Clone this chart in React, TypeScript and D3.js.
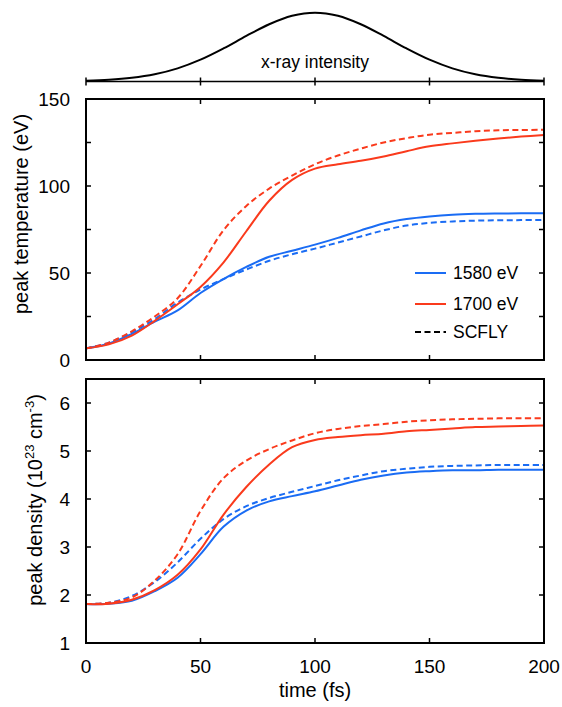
import { useRef, useEffect } from "react";
import * as d3 from "d3";

// time grid (fs)
const times = [0, 10, 20, 30, 40, 50, 60, 70, 80, 90, 100, 110, 120, 130, 140, 150, 160, 170, 180, 190, 200];

// x-ray pulse intensity (normalised)
const pulse = [0.01, 0.024, 0.053, 0.105, 0.191, 0.317, 0.48, 0.662, 0.832, 0.955, 1, 0.955, 0.832, 0.662, 0.48, 0.317, 0.191, 0.105, 0.053, 0.024, 0.01];

// peak temperature (eV)
const temp1580 = [6.7, 9.5, 15, 22, 28.5, 38.5, 46.5, 53.5, 59.3, 62.8, 66.3, 70.2, 74.5, 78.5, 81, 82.5, 83.5, 84, 84.2, 84.3, 84.4];
const temp1580scfly = [6.7, 10, 16, 23.5, 33, 40.5, 46.5, 52, 57, 60.8, 64, 67.5, 71, 74.5, 77.3, 78.8, 79.6, 80.1, 80.3, 80.4, 80.5];
const temp1700 = [6.7, 9, 14, 22.5, 32, 42, 56, 74, 91.5, 103.5, 110, 112.5, 114.5, 117, 120, 122.8, 124.5, 126, 127.3, 128.4, 129.3];
const temp1700scfly = [6.7, 10, 16.5, 25, 35.5, 54, 74.5, 88.5, 98.5, 106, 112.5, 117.5, 121.5, 125, 127.5, 129.5, 130.5, 131.5, 132, 132.2, 132.3];

// peak density (10^23 cm^-3)
const dens1580 = [1.81, 1.82, 1.88, 2.08, 2.36, 2.85, 3.42, 3.76, 3.95, 4.06, 4.16, 4.28, 4.4, 4.49, 4.55, 4.58, 4.6, 4.6, 4.61, 4.61, 4.61];
const dens1580scfly = [1.81, 1.84, 1.98, 2.27, 2.68, 3.17, 3.58, 3.85, 4.02, 4.15, 4.27, 4.39, 4.49, 4.58, 4.63, 4.67, 4.69, 4.7, 4.71, 4.71, 4.71];
const dens1700 = [1.81, 1.82, 1.9, 2.1, 2.42, 2.95, 3.67, 4.25, 4.72, 5.08, 5.23, 5.29, 5.33, 5.36, 5.41, 5.44, 5.47, 5.5, 5.51, 5.52, 5.53];
const dens1700scfly = [1.81, 1.84, 1.95, 2.3, 2.85, 3.75, 4.43, 4.8, 5.04, 5.22, 5.37, 5.46, 5.52, 5.56, 5.61, 5.64, 5.66, 5.67, 5.68, 5.68, 5.68];

const xTicks = [0, 50, 100, 150, 200];
const tempTicks = [0, 50, 100, 150];
const tempMinor = [0, 25, 50, 75, 100, 125, 150];
const densTicks = [1, 2, 3, 4, 5, 6];

const BLUE = "#1a6cf4";
const RED = "#fa3a1c";
const FONT = "'Liberation Sans', Arial, sans-serif";

function App() {
  const svgRef = useRef(null);

  useEffect(() => {
    const svg = d3.select(svgRef.current);
    svg.selectAll("*").remove();

    const x = d3.scaleLinear().domain([0, 200]).range([86, 544]);
    const yPulse = d3.scaleLinear().domain([0, 1]).range([81.5, 12.7]);
    const yT = d3.scaleLinear().domain([0, 150]).range([360, 99]);
    const yD = d3.scaleLinear().domain([1, 6.5]).range([643, 379]);

    // ---- pulse strip
    const pulseLine = d3
      .line()
      .x((_, i) => x(times[i]))
      .y((d) => yPulse(d))
      .curve(d3.curveCatmullRom);
    svg
      .append("path")
      .attr("d", pulseLine(pulse))
      .attr("fill", "none")
      .attr("stroke", "#000")
      .attr("stroke-width", 2);
    svg
      .append("line")
      .attr("x1", x(0))
      .attr("x2", x(200))
      .attr("y1", yPulse(0))
      .attr("y2", yPulse(0))
      .attr("stroke", "#000")
      .attr("stroke-width", 1.5);
    svg
      .selectAll(".ptick")
      .data(xTicks)
      .join("line")
      .attr("x1", (d) => x(d))
      .attr("x2", (d) => x(d))
      .attr("y1", yPulse(0) - 4)
      .attr("y2", yPulse(0) + 4)
      .attr("stroke", "#000")
      .attr("stroke-width", 1.5);
    svg
      .append("text")
      .attr("x", x(100))
      .attr("y", 68)
      .attr("text-anchor", "middle")
      .attr("font-size", 17.5)
      .attr("font-family", FONT)
      .text("x-ray intensity");

    // ---- generic panel
    const panel = (y, yTickVals, yLabels, series, yLabelText, labelX, labelY) => {
      const g = svg.append("g");
      const [y0, y1] = y.domain();
      const top = y(y1);
      const bot = y(y0);

      // ticks (inward)
      yTickVals.forEach((v) => {
        g.append("line").attr("x1", x(0)).attr("x2", x(0) + 5).attr("y1", y(v)).attr("y2", y(v)).attr("stroke", "#000").attr("stroke-width", 1.5);
        g.append("line").attr("x1", x(200)).attr("x2", x(200) - 5).attr("y1", y(v)).attr("y2", y(v)).attr("stroke", "#000").attr("stroke-width", 1.5);
      });
      xTicks.forEach((v) => {
        g.append("line").attr("x1", x(v)).attr("x2", x(v)).attr("y1", bot).attr("y2", bot - 5).attr("stroke", "#000").attr("stroke-width", 1.5);
        g.append("line").attr("x1", x(v)).attr("x2", x(v)).attr("y1", top).attr("y2", top + 5).attr("stroke", "#000").attr("stroke-width", 1.5);
      });

      g.selectAll(".ylab")
        .data(yLabels)
        .join("text")
        .attr("x", 70)
        .attr("y", (d) => y(d))
        .attr("dy", "0.36em")
        .attr("text-anchor", "end")
        .attr("font-size", 19)
        .attr("font-family", FONT)
        .text((d) => d);

      const ln = d3
        .line()
        .x((_, i) => x(times[i]))
        .y((d) => y(d))
        .curve(d3.curveCatmullRom.alpha(0.5));

      series.forEach((s) => {
        g.append("path")
          .attr("d", ln(s.values))
          .attr("fill", "none")
          .attr("stroke", s.color)
          .attr("stroke-width", 2)
          .attr("stroke-dasharray", s.dashed ? "6,3.5" : null);
      });

      g.append("rect")
        .attr("x", x(0))
        .attr("y", top)
        .attr("width", x(200) - x(0))
        .attr("height", bot - top)
        .attr("fill", "none")
        .attr("stroke", "#000")
        .attr("stroke-width", 2);

      const t = g
        .append("text")
        .attr("transform", `translate(${labelX},${labelY}) rotate(-90)`)
        .attr("text-anchor", "middle")
        .attr("font-size", 20)
        .attr("font-family", FONT);
      yLabelText(t);
    };

    panel(
      yT,
      tempMinor,
      tempTicks,
      [
        { values: temp1580scfly, color: BLUE, dashed: true },
        { values: temp1580, color: BLUE, dashed: false },
        { values: temp1700scfly, color: RED, dashed: true },
        { values: temp1700, color: RED, dashed: false },
      ],
      (t) => t.text("peak temperature (eV)"),
      28,
      214
    );

    panel(
      yD,
      densTicks,
      densTicks,
      [
        { values: dens1580scfly, color: BLUE, dashed: true },
        { values: dens1580, color: BLUE, dashed: false },
        { values: dens1700scfly, color: RED, dashed: true },
        { values: dens1700, color: RED, dashed: false },
      ],
      (t) => {
        t.append("tspan").text("peak density (10");
        t.append("tspan").attr("dy", -8).attr("font-size", 13).text("23");
        t.append("tspan").attr("dy", 8).text(" cm");
        t.append("tspan").attr("dy", -8).attr("font-size", 13).text("-3");
        t.append("tspan").attr("dy", 8).text(")");
      },
      42,
      500
    );

    // x tick labels + title
    svg
      .selectAll(".xlab")
      .data(xTicks)
      .join("text")
      .attr("x", (d) => x(d))
      .attr("y", 673)
      .attr("text-anchor", "middle")
      .attr("font-size", 19)
      .attr("font-family", FONT)
      .text((d) => d);
    svg
      .append("text")
      .attr("x", x(100))
      .attr("y", 697)
      .attr("text-anchor", "middle")
      .attr("font-size", 20)
      .attr("font-family", FONT)
      .text("time (fs)");

    // legend
    const legend = [
      { label: "1580 eV", color: BLUE, dashed: false },
      { label: "1700 eV", color: RED, dashed: false },
      { label: "SCFLY", color: "#000", dashed: true },
    ];
    const ly = [273, 304, 332];
    legend.forEach((d, i) => {
      svg.append("line")
        .attr("x1", 415)
        .attr("x2", 446)
        .attr("y1", ly[i])
        .attr("y2", ly[i])
        .attr("stroke", d.color)
        .attr("stroke-width", 2)
        .attr("stroke-dasharray", d.dashed ? "6,3.5" : null);
      svg.append("text")
        .attr("x", 453)
        .attr("y", ly[i])
        .attr("dy", "0.36em")
        .attr("font-size", 17.5)
        .attr("font-family", FONT)
        .text(d.label);
    });
  }, []);

  return (
    <svg
      ref={svgRef}
      width={562}
      height={707}
      style={{ position: "absolute", left: 0, top: 0, background: "#fff" }}
    />
  );
}

export default App;
